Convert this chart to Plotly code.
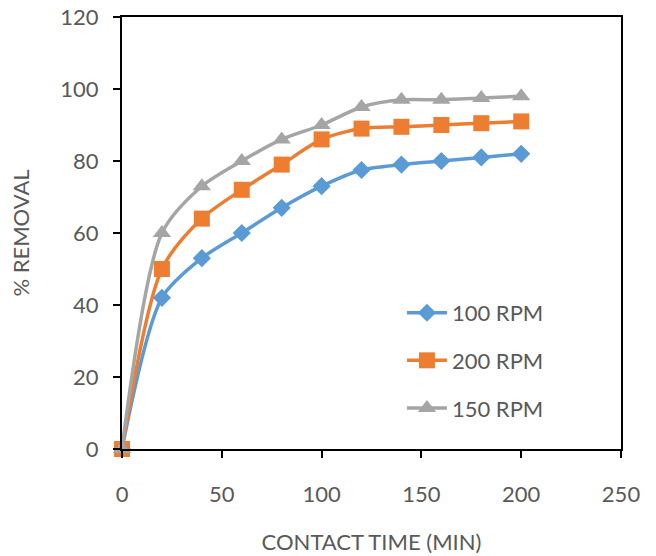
import plotly.graph_objects as go

time_min = [0, 20, 40, 60, 80, 100, 120, 140, 160, 180, 200]
rpm100 = [0, 42, 53, 60, 67, 73, 77.5, 79, 80, 81, 82]
rpm200 = [0, 50, 64, 72, 79, 86, 89, 89.5, 90, 90.5, 91]
rpm150 = [0, 60, 73, 80, 86, 90, 95, 97, 97, 97.5, 98]

series = [
    ("100 RPM", rpm100, "#5B9BD5", "diamond", 14),
    ("200 RPM", rpm200, "#ED7D31", "square", 16),
    ("150 RPM", rpm150, "#A5A5A5", "triangle-up", 16),
]

FONT = "Lato"
GRAY = "#595959"

fig = go.Figure()
for i, (name, vals, color, sym, sz) in enumerate(series):
    fig.add_trace(go.Scatter(
        x=time_min, y=vals, name=name, mode="lines+markers",
        line=dict(color=color, width=3.5, shape="spline", smoothing=0.8),
        marker=dict(symbol=sym, size=sz, color=color),
        cliponaxis=False, legendgroup=str(i),
    ))

fig.update_layout(
    width=656, height=556,
    margin=dict(l=122, r=35, t=17, b=107),
    paper_bgcolor="white", plot_bgcolor="white",
    font=dict(family=FONT, size=22, color=GRAY),
    showlegend=True,
    legend=dict(x=0.561, y=0.205, xanchor="left", yanchor="middle",
                bgcolor="rgba(0,0,0,0)", font=dict(size=22, color=GRAY),
                tracegroupgap=16, itemwidth=40),
    xaxis=dict(range=[0, 250], tickvals=[0, 50, 100, 150, 200, 250],
               showgrid=False, zeroline=False, automargin=False,
               showline=True, linecolor="black", linewidth=2, mirror=True,
               ticks="outside", ticklen=7, tickwidth=2, tickcolor="black",
               ticklabelstandoff=18,
               tickfont=dict(size=22, color=GRAY),
               title=dict(text="CONTACT TIME (MIN)", standoff=28,
                          font=dict(size=22, color=GRAY))),
    yaxis=dict(range=[0, 120], tickvals=[0, 20, 40, 60, 80, 100, 120],
               showgrid=False, zeroline=False, automargin=False,
               showline=True, linecolor="black", linewidth=2, mirror=True,
               ticks="outside", ticklen=7, tickwidth=2, tickcolor="black",
               ticklabelstandoff=10,
               tickfont=dict(size=22, color=GRAY),
               title=dict(text="% REMOVAL", standoff=25,
                          font=dict(size=22, color=GRAY))),
)

fig.write_html("out.html")
